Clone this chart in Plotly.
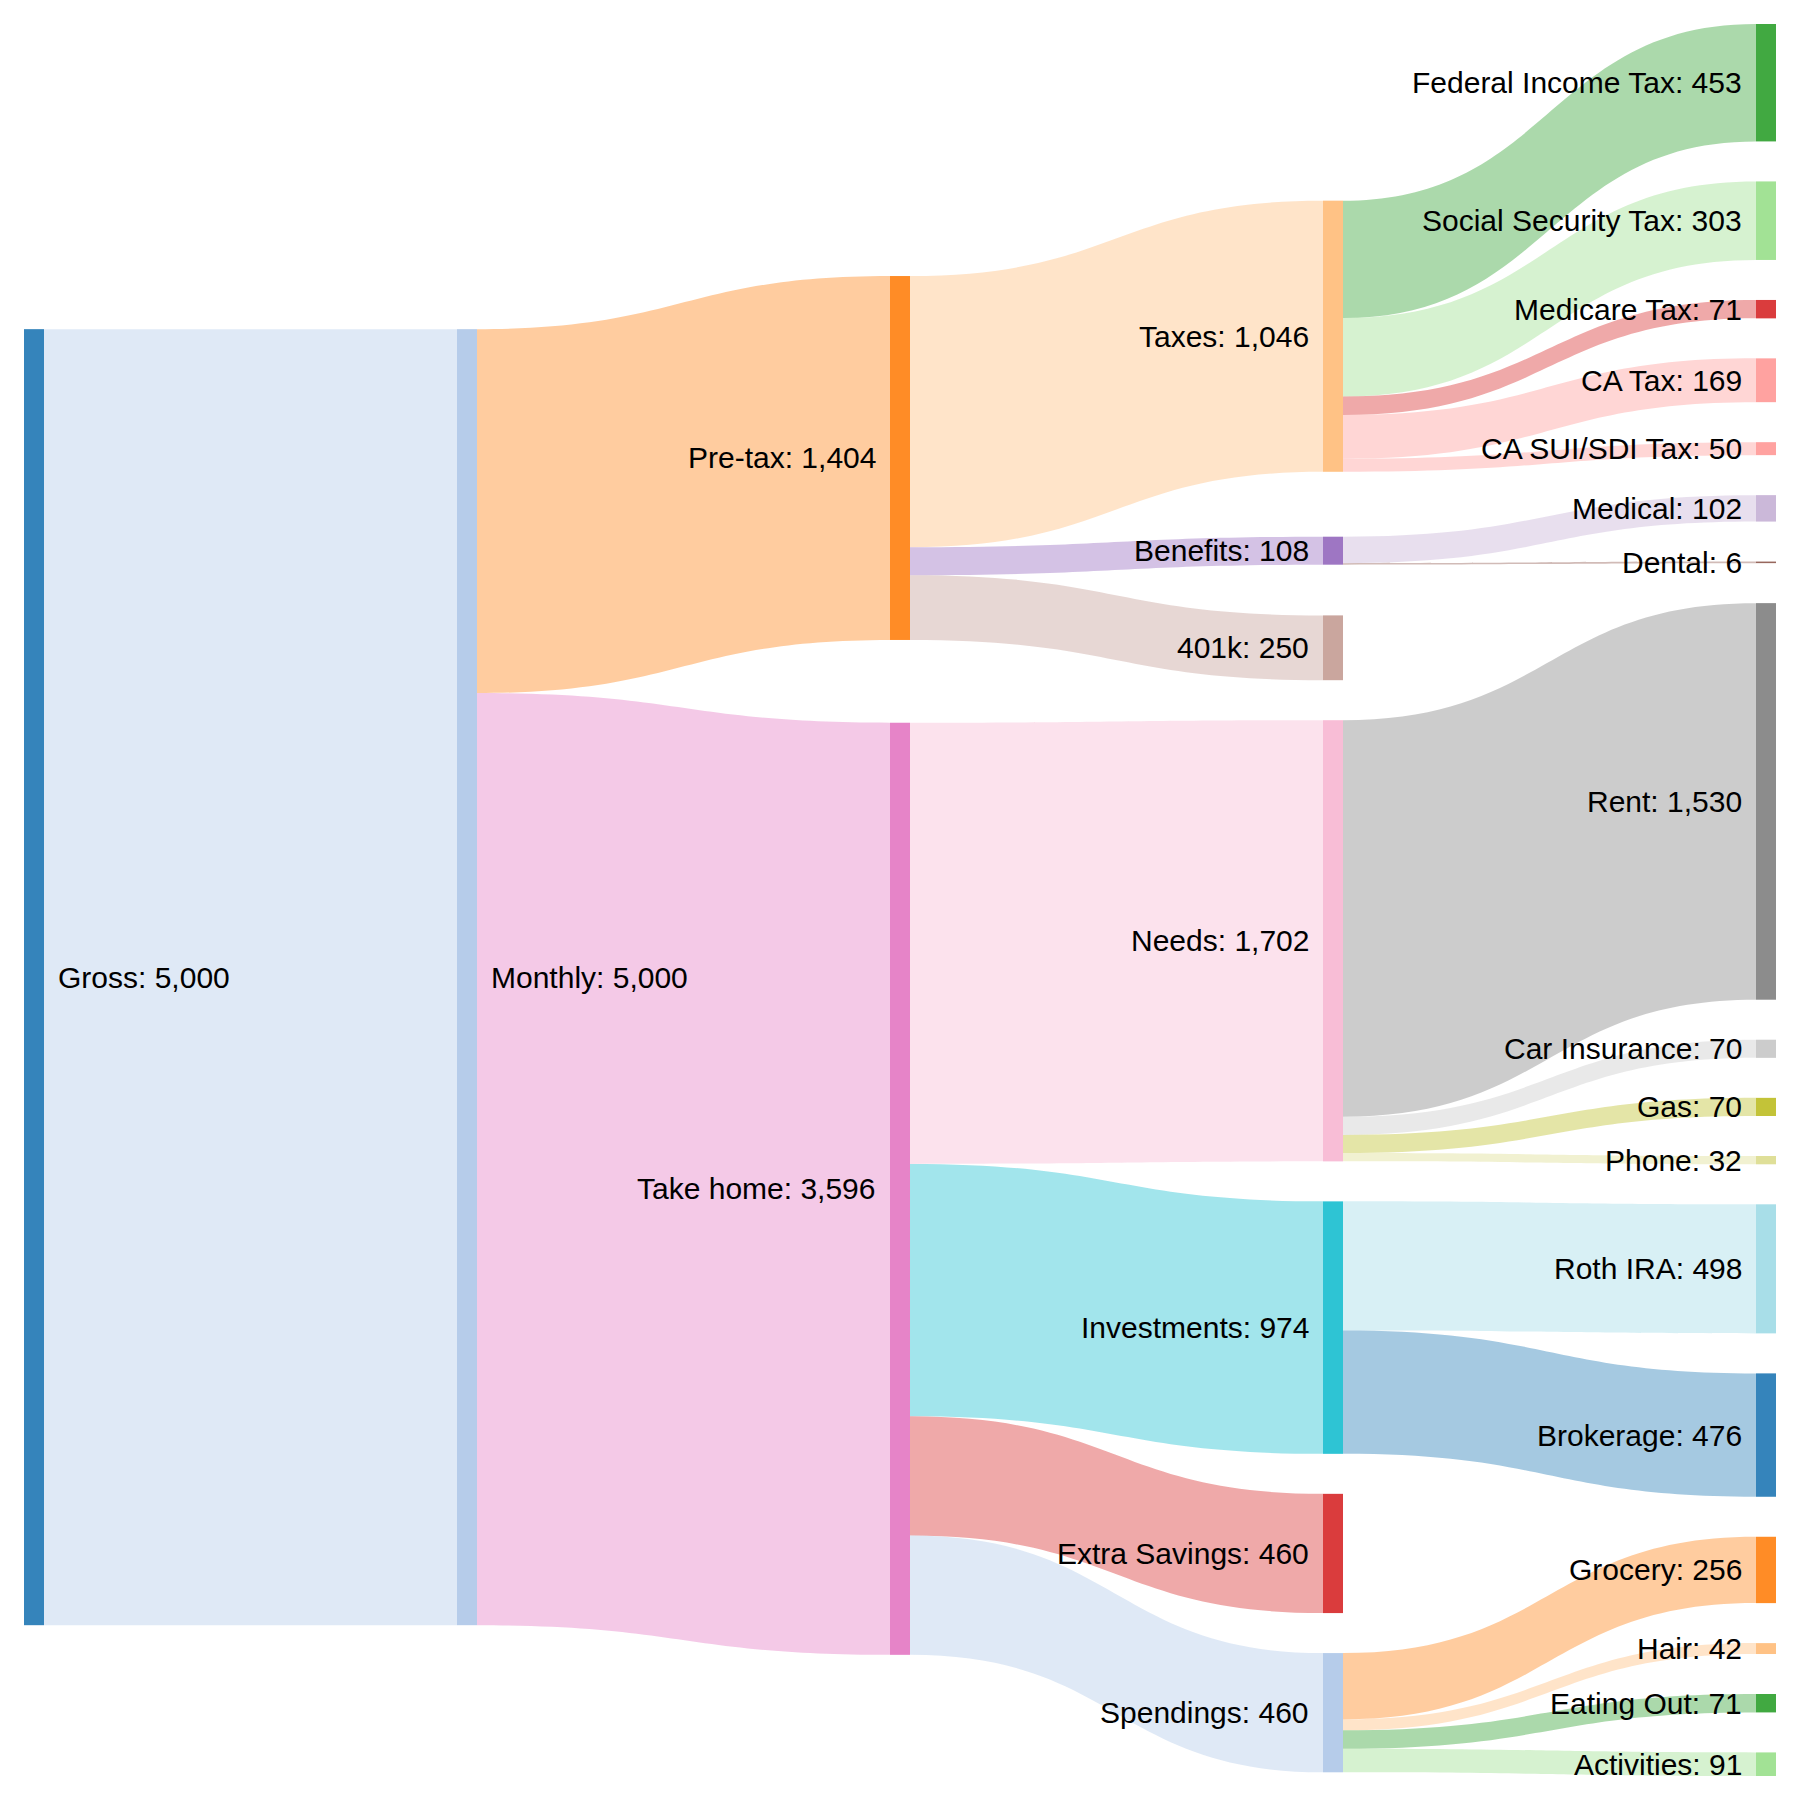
import plotly.graph_objects as go

# ---------------- data ----------------
node_names = [
    "Gross", "Monthly", "Pre-tax", "Take home",
    "Taxes", "Benefits", "401k",
    "Needs", "Investments", "Extra Savings", "Spendings",
    "Federal Income Tax", "Social Security Tax", "Medicare Tax", "CA Tax", "CA SUI/SDI Tax",
    "Medical", "Dental",
    "Rent", "Car Insurance", "Gas", "Phone",
    "Roth IRA", "Brokerage",
    "Grocery", "Hair", "Eating Out", "Activities",
]
node_colors = [
    "#1f77b4", "#aec7e8", "#ff7f0e", "#e377c2",
    "#ffbb78", "#9467bd", "#c49c94",
    "#f7b6d2", "#17becf", "#d62728", "#aec7e8",
    "#2ca02c", "#98df8a", "#d62728", "#ff9896", "#ff9896",
    "#c5b0d5", "#8c564b",
    "#7f7f7f", "#c7c7c7", "#bcbd22", "#dbdb8d",
    "#9edae5", "#1f77b4",
    "#ff7f0e", "#ffbb78", "#2ca02c", "#98df8a",
]

link_source = [
    "Gross", "Monthly", "Monthly",
    "Pre-tax", "Pre-tax", "Pre-tax",
    "Taxes", "Taxes", "Taxes", "Taxes", "Taxes",
    "Benefits", "Benefits",
    "Take home", "Take home", "Take home", "Take home",
    "Needs", "Needs", "Needs", "Needs",
    "Investments", "Investments",
    "Spendings", "Spendings", "Spendings", "Spendings",
]
link_target = [
    "Monthly", "Pre-tax", "Take home",
    "Taxes", "Benefits", "401k",
    "Federal Income Tax", "Social Security Tax", "Medicare Tax", "CA Tax", "CA SUI/SDI Tax",
    "Medical", "Dental",
    "Needs", "Investments", "Extra Savings", "Spendings",
    "Rent", "Car Insurance", "Gas", "Phone",
    "Roth IRA", "Brokerage",
    "Grocery", "Hair", "Eating Out", "Activities",
]
link_value = [
    5000, 1404, 3596,
    1046, 108, 250,
    453, 303, 71, 169, 50,
    102, 6,
    1702, 974, 460, 460,
    1530, 70, 70, 32,
    498, 476,
    256, 42, 71, 91,
]

# ---------------- figure geometry ----------------
FIG_W = FIG_H = 1784          # page body adds an 8px margin around the figure
MARGIN = 16
W = FIG_W - 2 * MARGIN
H = FIG_H - 2 * MARGIN
PAD = 40
THICK = 20
ITERATIONS = 32


def rgba(hex_color, a):
    h = hex_color.lstrip("#")
    r, g, b = int(h[0:2], 16), int(h[2:4], 16), int(h[4:6], 16)
    return f"rgba({r},{g},{b},{a})"


idx = {n: i for i, n in enumerate(node_names)}
src = [idx[s] for s in link_source]
tgt = [idx[t] for t in link_target]

# ---------------- sankey layout (left aligned, input order kept) ----------------
nodes = {n: dict(name=n, sl=[], tl=[], y0=None, y1=None) for n in node_names}
links = []
for k, (s, t, v) in enumerate(zip(link_source, link_target, link_value)):
    lk = dict(index=k, source=nodes[s], target=nodes[t], value=v, width=0.0)
    links.append(lk)
    nodes[s]["sl"].append(lk)
    nodes[t]["tl"].append(lk)
for nd in nodes.values():
    nd["value"] = max(sum(l["value"] for l in nd["sl"]), sum(l["value"] for l in nd["tl"]))

for nd in nodes.values():
    nd["layer"] = 0
changed = True
while changed:
    changed = False
    for lk in links:
        if lk["target"]["layer"] < lk["source"]["layer"] + 1:
            lk["target"]["layer"] = lk["source"]["layer"] + 1
            changed = True
ncol = max(nd["layer"] for nd in nodes.values()) + 1
columns = [[nodes[n] for n in node_names if nodes[n]["layer"] == c] for c in range(ncol)]
py = min(PAD, H / (max(len(c) for c in columns) - 1))


def tkey(lk):
    y = lk["target"]["y0"]
    return (0.0 if y is None else y, lk["index"])


def skey(lk):
    y = lk["source"]["y0"]
    return (0.0 if y is None else y, lk["index"])


def reorder_links(col):
    for nd in col:
        nd["sl"].sort(key=tkey)
        nd["tl"].sort(key=skey)


def reorder_node_links(nd):
    for lk in nd["tl"]:
        lk["source"]["sl"].sort(key=tkey)
    for lk in nd["sl"]:
        lk["target"]["tl"].sort(key=skey)


ky = min((H - (len(c) - 1) * py) / sum(nd["value"] for nd in c) for c in columns)
for col in columns:
    y = 0.0
    for nd in col:
        nd["y0"] = y
        nd["y1"] = y + nd["value"] * ky
        y = nd["y1"] + py
        for lk in nd["sl"]:
            lk["width"] = lk["value"] * ky
    y = (H - y + py) / (len(col) + 1)
    for i, nd in enumerate(col):
        nd["y0"] += y * (i + 1)
        nd["y1"] += y * (i + 1)
    reorder_links(col)


def target_top(source, target):
    y = source["y0"] - (len(source["sl"]) - 1) * py / 2
    for lk in source["sl"]:
        if lk["target"] is target:
            break
        y += lk["width"] + py
    for lk in target["tl"]:
        if lk["source"] is source:
            break
        y -= lk["width"]
    return y


def source_top(source, target):
    y = target["y0"] - (len(target["tl"]) - 1) * py / 2
    for lk in target["tl"]:
        if lk["source"] is source:
            break
        y += lk["width"] + py
    for lk in source["sl"]:
        if lk["target"] is target:
            break
        y -= lk["width"]
    return y


def shift(nd, dy):
    nd["y0"] += dy
    nd["y1"] += dy


def resolve(col):
    # push overlapping nodes down, then pull back up anything past the bottom
    y = 0.0
    for nd in col:
        dy = y - nd["y0"]
        if dy > 0:
            shift(nd, dy)
        y = nd["y1"] + py
    dy = y - py - H
    if dy > 0:
        last = col[-1]
        shift(last, -dy)
        y = last["y0"]
        for nd in reversed(col[:-1]):
            dy = nd["y1"] + py - y
            if dy > 0:
                shift(nd, -dy)
            y = nd["y0"]


for col in columns:
    resolve(col)

for it in range(ITERATIONS):
    alpha = 0.99 ** it
    for ci in range(ncol - 2, -1, -1):
        col = columns[ci]
        for nd in col:
            ys = ws = 0.0
            for lk in nd["sl"]:
                v = lk["value"] * (lk["target"]["layer"] - nd["layer"])
                ys += source_top(nd, lk["target"]) * v
                ws += v
            if not ws > 0:
                continue
            shift(nd, (ys / ws - nd["y0"]) * alpha)
            reorder_node_links(nd)
        resolve(col)
    for ci in range(1, ncol):
        col = columns[ci]
        for nd in col:
            ys = ws = 0.0
            for lk in nd["tl"]:
                v = lk["value"] * (nd["layer"] - lk["source"]["layer"])
                ys += target_top(lk["source"], nd) * v
                ws += v
            if not ws > 0:
                continue
            shift(nd, (ys / ws - nd["y0"]) * alpha)
            reorder_node_links(nd)
        resolve(col)

kx = (W - THICK) / (ncol - 1)
node_x = [(nodes[n]["layer"] * kx + THICK / 2) / W for n in node_names]
node_y = [(nodes[n]["y0"] + nodes[n]["y1"]) / 2 / H for n in node_names]

labels = [f"{n}: {nodes[n]['value']:,}" for n in node_names]

fig = go.Figure(go.Sankey(
    arrangement="fixed",
    domain=dict(x=[0, 1], y=[0, 1]),
    node=dict(
        label=["" for _ in node_names],
        customdata=labels,
        hovertemplate="%{customdata}<extra></extra>",
        color=[rgba(c, 0.9) for c in node_colors],
        pad=PAD,
        thickness=THICK,
        line=dict(width=0),
        align="left",
        x=node_x,
        y=node_y,
    ),
    link=dict(
        source=src,
        target=tgt,
        value=link_value,
        color=[rgba(node_colors[t], 0.4) for t in tgt],
    ),
))

# node labels: left of the node in the right half, right of it in the left half
annotations = []
for n, lab, xc, yc in zip(node_names, labels, node_x, node_y):
    on_left = xc >= 0.5
    x_edge = xc * W + (-THICK / 2 if on_left else THICK / 2)
    annotations.append(dict(
        text=lab,
        xref="paper", yref="paper",
        x=x_edge / W,
        y=1 - yc,
        xanchor="right" if on_left else "left",
        yanchor="middle",
        xshift=-12 if on_left else 12,
        showarrow=False,
        font=dict(family="Arial, Liberation Sans, sans-serif", size=30, color="black"),
    ))

fig.update_layout(
    width=FIG_W,
    height=FIG_H,
    margin=dict(l=MARGIN, r=MARGIN, t=MARGIN, b=MARGIN),
    paper_bgcolor="white",
    plot_bgcolor="white",
    annotations=annotations,
)

fig.write_html("out.html")
